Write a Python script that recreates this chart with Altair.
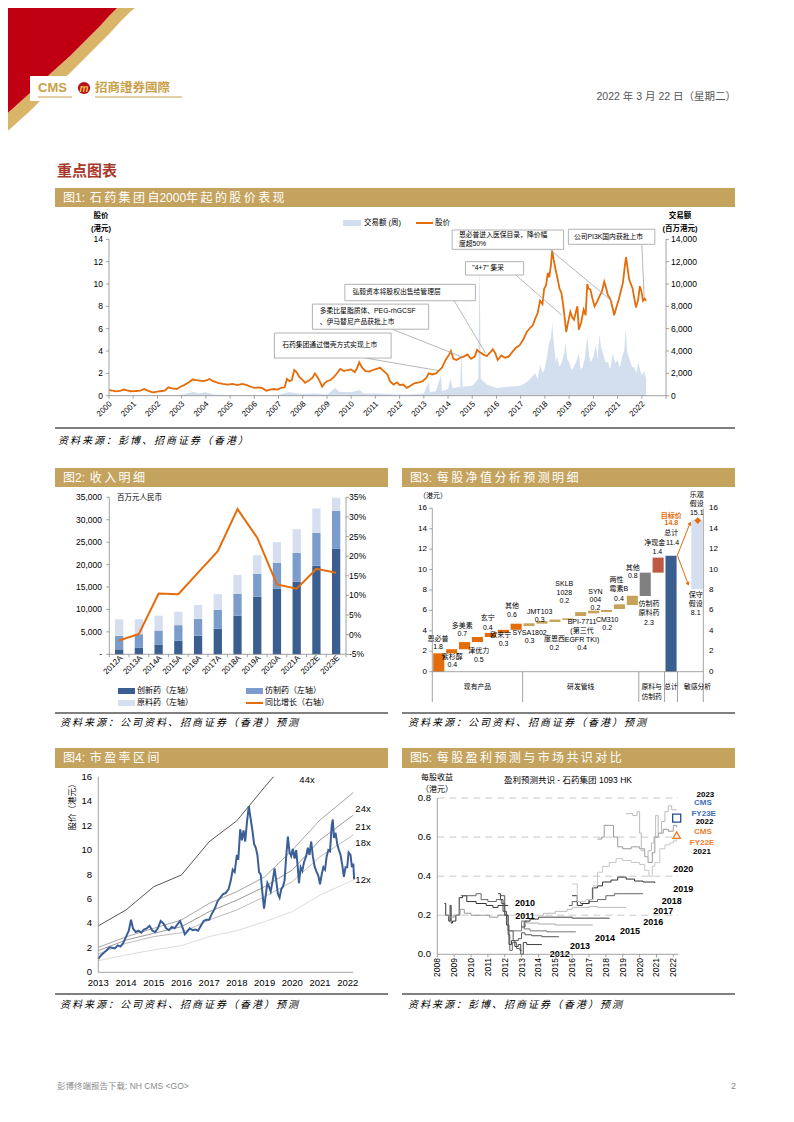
import altair as alt
import pandas as pd

O = 8
FONT = "Liberation Sans, Noto Sans CJK SC, sans-serif"
GOLD = "#C4A35E"
ORANGE = "#E46C0A"
AX = "#8C8C8C"
RED = "#C00012"
LOGO = "#C9A14A"
TS = "\u2009"

# ======================= DATA =======================
# Fig1: share price (HK$) and weekly turnover (HK$ m)
price1 = [(2000.0,0.5),(2000.15,0.45),(2000.3,0.38),(2000.5,0.45),(2000.6,0.55),(2000.75,0.48),(2000.9,0.4),
 (2001.1,0.42),(2001.3,0.45),(2001.45,0.6),(2001.6,0.45),(2001.8,0.3),(2001.95,0.35),(2002.1,0.4),(2002.3,0.45),
 (2002.45,0.75),(2002.6,0.65),(2002.8,0.6),(2002.95,0.8),(2003.1,0.95),(2003.3,1.2),(2003.45,1.45),(2003.6,1.4),
 (2003.75,1.35),(2003.9,1.3),(2004.05,1.4),(2004.15,1.5),(2004.3,1.3),(2004.5,1.15),(2004.7,1.05),(2004.9,1.0),
 (2005.1,1.05),(2005.3,0.95),(2005.5,1.05),(2005.7,0.95),(2005.85,0.8),(2006.0,0.7),(2006.2,0.75),(2006.35,0.65),
 (2006.5,0.45),(2006.65,0.55),(2006.8,0.6),(2006.95,0.55),(2007.1,0.7),(2007.25,0.75),(2007.35,1.5),(2007.45,1.3),
 (2007.55,1.4),(2007.65,2.3),(2007.75,2.1),(2007.85,1.7),(2008.0,1.4),(2008.1,1.15),(2008.25,1.35),(2008.4,1.6),
 (2008.5,2.0),(2008.6,1.7),(2008.7,1.3),(2008.8,0.8),(2008.9,1.1),(2009.0,1.3),(2009.15,1.4),(2009.3,1.7),
 (2009.45,2.1),(2009.55,2.4),(2009.7,2.2),(2009.85,2.3),(2010.0,2.35),(2010.15,2.1),(2010.25,2.5),(2010.33,3.0),
 (2010.45,2.5),(2010.6,2.2),(2010.75,2.15),(2010.9,2.3),(2011.05,2.4),(2011.2,2.5),(2011.35,2.2),(2011.5,1.9),
 (2011.6,1.3),(2011.75,1.0),(2011.9,1.2),(2012.0,0.95),(2012.15,1.0),(2012.3,0.7),(2012.45,0.9),(2012.6,1.1),
 (2012.8,1.2),(2012.95,1.3),(2013.1,1.6),(2013.2,2.0),(2013.35,1.9),(2013.5,2.0),(2013.6,2.2),(2013.75,2.5),
 (2013.9,3.2),(2014.05,3.7),(2014.12,4.0),(2014.22,3.3),(2014.35,3.2),(2014.5,3.4),(2014.65,3.5),(2014.8,3.7),
 (2014.95,3.3),(2015.1,3.5),(2015.2,4.1),(2015.3,3.9),(2015.45,3.7),(2015.6,3.55),(2015.75,3.9),(2015.85,4.15),
 (2015.95,3.8),(2016.05,3.2),(2016.2,3.6),(2016.35,3.4),(2016.5,3.5),(2016.65,3.9),(2016.8,4.3),(2016.95,4.5),
 (2017.1,5.0),(2017.25,5.7),(2017.4,6.1),(2017.5,6.3),(2017.6,6.9),(2017.7,7.4),(2017.8,8.5),(2017.9,8.2),
 (2017.97,9.6),(2018.05,9.9),(2018.12,11.0),(2018.18,10.6),(2018.25,11.7),(2018.3,13.0),(2018.36,12.2),
 (2018.44,11.3),(2018.52,10.5),(2018.6,9.6),(2018.68,9.2),(2018.75,8.2),(2018.82,6.9),(2018.88,5.7),(2018.95,6.5),
 (2019.05,7.5),(2019.13,7.0),(2019.2,6.8),(2019.28,7.5),(2019.34,8.0),(2019.4,5.9),(2019.5,6.6),(2019.6,7.7),
 (2019.68,7.2),(2019.75,10.0),(2019.8,9.6),(2019.88,9.5),(2019.95,8.8),(2020.05,8.0),(2020.15,8.4),(2020.25,8.9),
 (2020.35,9.3),(2020.45,10.2),(2020.52,9.7),(2020.6,9.0),(2020.71,8.6),(2020.8,7.8),(2020.86,7.2),(2020.95,7.9),
 (2021.05,8.6),(2021.15,9.5),(2021.22,10.1),(2021.3,11.6),(2021.35,12.4),(2021.42,11.3),(2021.48,10.4),
 (2021.55,10.0),(2021.62,9.6),(2021.7,8.6),(2021.76,7.9),(2021.85,8.6),(2021.92,9.8),(2021.98,9.4),(2022.05,8.5),
 (2022.12,8.7),(2022.18,8.5)]

vol1 = [(2000.0,30),(2001.0,40),(2002.0,40),(2003.0,80),(2003.5,350),(2003.7,200),(2004.0,300),(2004.3,100),
 (2005.0,60),(2006.0,50),(2007.0,80),(2007.4,300),(2007.7,250),(2008.0,150),(2008.5,200),(2009.0,100),
 (2009.35,700),(2009.5,350),(2010.0,300),(2010.35,500),(2010.5,200),(2011.0,200),(2011.5,150),(2012.0,100),
 (2012.5,100),(2013.0,200),(2013.2,1200),(2013.25,300),(2013.5,400),(2013.7,1800),(2013.75,400),(2014.0,600),
 (2014.1,1500),(2014.2,700),(2014.5,800),(2014.55,4200),(2014.6,800),(2015.0,900),(2015.25,1500),(2015.3,12400),
 (2015.35,1500),(2015.6,1000),(2016.0,700),(2016.5,800),(2017.0,900),(2017.3,1300),(2017.6,2000),(2017.7,1500),
 (2017.8,2800),(2017.9,2000),(2018.0,2500),(2018.1,3600),(2018.15,4500),(2018.25,5200),(2018.3,6500),
 (2018.35,5000),(2018.45,3000),(2018.5,3500),(2018.6,2600),(2018.7,3000),(2018.8,3900),(2018.85,4800),
 (2018.92,3300),(2019.0,3000),(2019.1,2300),(2019.2,2600),(2019.3,3100),(2019.4,3800),(2019.47,2400),
 (2019.55,2500),(2019.65,3400),(2019.75,5300),(2019.82,3600),(2019.9,3000),(2020.0,3500),(2020.1,4500),
 (2020.18,3300),(2020.25,5500),(2020.32,4300),(2020.4,3800),(2020.5,3000),(2020.6,3000),(2020.7,2400),
 (2020.8,3800),(2020.9,2900),(2021.0,3200),(2021.1,2500),(2021.2,3600),(2021.28,4100),(2021.33,6000),
 (2021.4,3900),(2021.5,3200),(2021.6,2600),(2021.7,2500),(2021.78,2000),(2021.85,3000),(2021.93,2300),
 (2022.0,1800),(2022.1,2200),(2022.18,1500)]

# Fig2: revenue (RMB m) by segment and yoy growth (%)
f2_cat = ["2012A","2013A","2014A","2015A","2016A","2017A","2018A","2019A","2020A","2021A","2022E","2023E"]
f2_innov = [1100,1500,2200,3050,4150,5700,8600,12850,14600,16200,19750,23600]
f2_generic = [3000,2950,3100,3450,3750,4200,4850,5050,5800,6450,7350,8350]
f2_api = [3700,3350,3300,3000,3100,3500,4250,4200,4600,5200,5400,2950]
f2_growth = [-1.5,0.2,10.5,10.3,15.8,21.3,32.0,24.7,12.8,11.7,16.8,15.8]

# Fig3: NAV waterfall (HK$/share): bar index, start, end, group
f3_idx = [0,1,2,3,4,5,6,7,8,9,10,11,12,13,14,15,16,17,18,20]
f3_start = [0,1.8,2.2,2.9,3.4,3.8,4.1,4.47,4.7,4.87,5.06,5.45,5.71,5.85,6.14,6.53,7.41,9.7,0,8.1]
f3_end = [1.8,2.2,2.9,3.4,3.8,4.1,4.7,4.74,4.96,5.1,5.22,5.84,5.98,6.04,6.6,7.44,9.7,11.17,11.36,14.9]
f3_group = ["现有"]*7 + ["研发"]*9 + ["仿制","现金","总计","敏感"]
f3_labels = [  # x(band units), y(HK$), text
 (0.45,3.2,"恩必普"),(0.45,2.45,"1.8"),(1.55,1.47,"紫杉醇"),(1.55,0.62,"0.4"),
 (2.33,4.5,"多美素"),(2.33,3.66,"0.7"),(3.6,2.06,"津优力"),(3.6,1.14,"0.5"),
 (4.3,5.29,"玄宁"),(4.3,4.31,"0.4"),(5.3,3.59,"欧来宁"),(5.52,2.71,"0.3"),
 (6.17,6.47,"其他"),(6.17,5.55,"0.6"),(7.54,3.82,"SYSA1802"),(7.54,3.0,"0.3"),
 (8.32,5.88,"JMT103"),(8.32,5.06,"0.3"),(9.46,3.2,"度恩西"),(9.46,2.35,"0.2"),
 (11.6,4.85,"BPI-7711"),(11.6,3.98,"(第三代"),(11.6,3.12,"EGFR TKI)"),(11.6,2.3,"0.4"),
 (10.23,8.56,"SKLB"),(10.23,7.72,"1028"),(10.23,6.9,"0.2"),
 (12.64,7.84,"SYN"),(12.64,7.03,"004"),(12.64,6.22,"0.2"),
 (13.55,5.06,"CM310"),(13.55,4.25,"0.2"),
 (14.27,8.98,"两性"),(14.46,8.05,"霉素B"),(14.46,7.12,"0.4"),
 (15.54,10.19,"其他"),(15.54,9.37,"0.8"),
 (16.79,6.6,"仿制药"),(16.79,5.71,"原料药"),(16.79,4.8,"2.3"),
 (17.23,12.57,"净现金"),(17.44,11.69,"1.4"),(18.52,13.55,"总计"),(18.62,12.64,"11.4"),
 (20.49,17.3,"乐观"),(20.49,16.42,"假设"),(20.49,15.51,"15.1"),
 (20.41,7.51,"保守"),(20.41,6.63,"假设"),(20.41,5.71,"8.1")]
f3_target = 14.8

# Fig4: share price since 2013 and PE bands
price4 = [(2013.0,1.1),(2013.1,1.4),(2013.2,1.6),(2013.3,1.8),(2013.4,2.05),(2013.5,2.0),(2013.6,1.95),(2013.7,2.2),
 (2013.8,2.1),(2013.9,2.4),(2014.0,2.9),(2014.1,3.4),(2014.18,4.3),(2014.25,3.6),(2014.35,3.3),(2014.45,3.4),
 (2014.55,3.25),(2014.65,3.5),(2014.75,3.6),(2014.85,3.8),(2014.95,3.4),(2015.05,3.3),(2015.15,3.6),(2015.25,4.2),
 (2015.35,4.0),(2015.45,3.6),(2015.55,3.45),(2015.65,3.7),(2015.75,3.6),(2015.85,3.9),(2015.95,4.2),(2016.05,3.6),
 (2016.12,3.1),(2016.2,3.3),(2016.3,3.6),(2016.4,3.45),(2016.5,3.5),(2016.6,3.4),(2016.7,3.8),(2016.8,4.2),
 (2016.9,4.3),(2017.0,4.3),(2017.1,4.8),(2017.2,5.2),(2017.3,5.8),(2017.4,6.1),(2017.5,6.4),(2017.6,6.5),
 (2017.7,6.8),(2017.78,7.5),(2017.85,8.4),(2017.92,8.2),(2018.0,9.6),(2018.05,9.2),(2018.12,11.7),(2018.18,10.8),
 (2018.24,11.6),(2018.3,10.7),(2018.36,12.2),(2018.43,13.6),(2018.5,12.5),(2018.56,11.6),(2018.62,10.5),
 (2018.68,10.2),(2018.74,9.6),(2018.8,8.2),(2018.86,8.0),(2018.92,6.5),(2018.98,5.2),(2019.04,6.3),(2019.1,7.3),
 (2019.16,7.0),(2019.22,6.6),(2019.3,7.6),(2019.36,8.5),(2019.42,7.5),(2019.48,6.4),(2019.54,6.1),(2019.6,6.8),
 (2019.66,7.0),(2019.72,7.5),(2019.78,9.5),(2019.84,11.1),(2019.9,9.8),(2019.96,9.5),(2020.02,10.1),(2020.08,9.3),
 (2020.14,10.0),(2020.2,8.5),(2020.24,7.3),(2020.3,8.6),(2020.36,8.3),(2020.42,9.0),(2020.5,9.5),(2020.56,10.2),
 (2020.62,9.6),(2020.68,10.7),(2020.74,9.5),(2020.8,8.7),(2020.86,8.3),(2020.94,7.9),(2021.0,7.2),(2021.06,8.0),
 (2021.12,8.6),(2021.18,8.4),(2021.24,9.5),(2021.3,10.0),(2021.36,9.9),(2021.42,12.0),(2021.46,12.5),(2021.5,11.0),
 (2021.56,11.4),(2021.62,10.5),(2021.68,10.0),(2021.74,9.6),(2021.8,8.8),(2021.86,7.8),(2021.92,8.6),(2021.98,8.6),
 (2022.03,9.8),(2022.1,9.6),(2022.15,8.6),(2022.2,8.9),(2022.23,7.6)]
pe_t = [2013,2014,2015,2016,2017,2018,2019,2020,2021,2022.2]
pe_bands = {
 "44x": ([2013,2014,2015,2016,2017,2018,2019,2019.32], [3.8,5.1,7.0,7.96,10.68,12.4,15.15,16.0]),
 "24x": (pe_t, [2.04,2.9,3.6,4.28,5.64,6.6,7.8,10.0,12.46,14.7]),
 "21x": (pe_t, [1.77,2.64,3.19,3.73,4.96,5.9,7.0,8.37,10.82,12.86]),
 "18x": (pe_t, [1.5,2.37,2.92,3.24,4.28,5.1,6.19,7.41,9.46,11.23]),
 "12x": (pe_t, [0.95,1.42,1.83,2.18,2.92,3.41,4.14,4.96,6.32,7.55]),
}

# Fig5: consensus EPS (HK$) by fiscal year
eps_lines = {
 "FY2010": ([2008.42,2008.5,2008.68,2008.76,2008.82,2008.9,2009.1,2009.3,2009.5,2009.75,2010.3,2010.9,2011.3,2011.6,2012.2],
            [0.26,0.2,0.17,0.25,0.16,0.17,0.2,0.29,0.3,0.27,0.26,0.25,0.24,0.25,0.25]),
 "FY2011": ([2008.42,2008.7,2009.0,2009.35,2009.6,2010.0,2010.6,2011.1,2011.6,2012.2],
            [0.2,0.19,0.2,0.23,0.21,0.2,0.2,0.19,0.2,0.19]),
 "FY2012": ([2009.4,2009.8,2010.3,2010.6,2011.0,2011.5,2011.8,2012.0,2012.2,2012.3,2012.45,2012.7,2012.9,2013.0],
            [0.3,0.3,0.31,0.28,0.27,0.28,0.26,0.2,0.1,0.02,0.06,0.03,0.02,0.02]),
 "FY2013": ([2011.6,2011.75,2011.9,2012.1,2012.25,2012.4,2012.6,2012.8,2012.95,2013.1,2013.3,2014.2],
            [0.31,0.28,0.22,0.15,0.05,0.07,0.04,0.05,0.0,0.06,0.05,0.05]),
 "FY2014": ([2011.7,2012.0,2012.2,2012.5,2012.8,2013.0,2013.2,2013.6,2014.2,2015.2],
            [0.3,0.2,0.12,0.07,0.08,0.11,0.1,0.095,0.09,0.088]),
 "FY2015": ([2012.3,2012.8,2013.0,2013.15,2013.5,2014.5,2016.2],[0.12,0.12,0.17,0.13,0.12,0.115,0.113]),
 "FY2016": ([2013.0,2013.3,2014.0,2015.0,2017.2],[0.17,0.16,0.155,0.15,0.149]),
 "FY2017": ([2013.0,2013.2,2013.5,2014.0,2015.0,2016.0,2018.2],[0.14,0.17,0.18,0.19,0.19,0.185,0.183]),
 "FY2018": ([2014.1,2014.3,2015.0,2015.7,2016.0,2016.5,2017.0,2017.5,2019.2],[0.2,0.21,0.22,0.23,0.24,0.24,0.245,0.24,0.24]),
 "FY2019": ([2015.8,2016.0,2016.5,2017.0,2017.5,2018.0,2018.5,2019.0,2020.2],[0.25,0.27,0.26,0.27,0.28,0.3,0.31,0.31,0.31]),
 "FY2020": ([2016.0,2016.3,2016.6,2017.0,2017.2,2017.5,2017.8,2018.3,2018.7,2019.2,2019.7,2020.2,2020.9],
            [0.3,0.25,0.26,0.28,0.34,0.35,0.37,0.38,0.395,0.385,0.375,0.37,0.365]),
 "FY2021": ([2016.0,2016.3,2016.8,2017.25,2017.5,2017.8,2018.2,2018.6,2019.0,2019.5,2020.0,2020.3,2020.55,2020.75,2020.9,2021.2,2021.5,2021.8,2022.0,2022.2],
            [0.36,0.27,0.28,0.35,0.42,0.45,0.47,0.49,0.48,0.47,0.46,0.43,0.4,0.45,0.47,0.54,0.56,0.57,0.58,0.59]),
 "FY2022": ([2017.5,2017.75,2017.9,2018.2,2018.45,2018.7,2019.0,2019.5,2020.0,2020.3,2020.5,2020.75,2020.9,2021.1,2021.4,2021.7,2022.0,2022.2],
            [0.59,0.6,0.66,0.66,0.6,0.55,0.54,0.55,0.54,0.5,0.47,0.52,0.6,0.62,0.64,0.63,0.66,0.65]),
 "FY2023": ([2019.2,2019.6,2019.85,2020.0,2020.1,2020.3,2020.5,2020.7,2020.85,2020.95,2021.1,2021.3,2021.5,2021.7,2021.9,2022.2],
            [0.72,0.71,0.73,0.62,0.53,0.5,0.53,0.57,0.6,0.71,0.62,0.68,0.73,0.76,0.74,0.74]),
}
eps_colors = ["#333333","#9a9a9a","#666666","#444444","#555555","#777777","#aaaaaa","#444444","#bbbbbb",
              "#666666","#333333","#c8c8c8","#999999","#bbbbbb"]
cms_fy23 = (2022.2, 0.697)
cms_fy22 = (2022.2, 0.61)
eps_labels_right = [(2023.9,0.815,"2023","#000"),(2023.75,0.772,"CMS","#3F6FB5"),(2023.8,0.72,"FY23E","#3F6FB5"),
 (2023.85,0.676,"2022","#000"),(2023.75,0.626,"CMS","#F07C28"),(2023.7,0.572,"FY22E","#F07C28"),
 (2023.7,0.524,"2021","#000")]
eps_labels = [(2022.59,0.437,"2020"),(2022.59,0.336,"2019"),
 (2021.9,0.274,"2018"),(2021.4,0.223,"2017"),(2020.81,0.167,"2016"),
 (2019.43,0.121,"2015"),(2017.95,0.085,"2014"),(2016.46,0.044,"2013"),
 (2015.27,0.0,"2012"),(2013.2,0.261,"2010"),(2013.2,0.196,"2011")]

# ======================= HELPERS =======================
L = []
one = pd.DataFrame({"k": [0]})


def P(v):
    return v - O


def S(dom, a, b):
    return alt.Scale(domain=list(dom), range=[P(a), P(b)], nice=False, zero=False)


def sp(s):
    """widen CJK text a little (thin spaces between characters)"""
    return TS.join(list(s))


def T(x, y, s, size=8, color="#000", weight="normal", align="left", baseline="middle", angle=0, style="normal"):
    L.append(alt.Chart(one).mark_text(text=s, fontSize=size, color=color, fontWeight=weight, align=align,
                                      baseline=baseline, angle=angle, fontStyle=style, font=FONT)
             .encode(x=alt.value(P(x)), y=alt.value(P(y))))


def R(x0, y0, x1, y1, color):
    L.append(alt.Chart(one).mark_rect(color=color)
             .encode(x=alt.value(P(x0)), x2=alt.value(P(x1)), y=alt.value(P(y0)), y2=alt.value(P(y1))))


def H(x0, x1, y, color="#000", w=1.0):
    L.append(alt.Chart(one).mark_rule(color=color, strokeWidth=w)
             .encode(x=alt.value(P(x0)), x2=alt.value(P(x1)), y=alt.value(P(y))))


def vaxis(ys, lo, hi, xpix, ticks, labels, side, lab_x, size=8, tick=3, weight="normal"):
    L.append(alt.Chart(pd.DataFrame({"a": [lo], "b": [hi]})).mark_rule(color=AX, strokeWidth=0.8)
             .encode(x=alt.value(P(xpix)), y=alt.Y("a:Q", scale=ys, axis=None), y2="b:Q"))
    df = pd.DataFrame({"v": ticks, "l": labels})
    if tick:
        x2 = xpix - tick if side == "left" else xpix + tick
        L.append(alt.Chart(df).mark_rule(color=AX, strokeWidth=0.8)
                 .encode(y=alt.Y("v:Q", scale=ys, axis=None), x=alt.value(P(xpix)), x2=alt.value(P(x2))))
    L.append(alt.Chart(df).mark_text(align="right" if side == "left" else "left", baseline="middle",
                                     fontSize=size, font=FONT, fontWeight=weight)
             .encode(y=alt.Y("v:Q", scale=ys, axis=None), x=alt.value(P(lab_x)), text="l:N"))


def haxis(xs, lo, hi, ypix, ticks, tick=3):
    L.append(alt.Chart(pd.DataFrame({"a": [lo], "b": [hi]})).mark_rule(color=AX, strokeWidth=0.8)
             .encode(y=alt.value(P(ypix)), x=alt.X("a:Q", scale=xs, axis=None), x2="b:Q"))
    if tick:
        L.append(alt.Chart(pd.DataFrame({"v": ticks})).mark_rule(color=AX, strokeWidth=0.8)
                 .encode(x=alt.X("v:Q", scale=xs, axis=None), y=alt.value(P(ypix)), y2=alt.value(P(ypix + tick))))


def xlabels(xs, vals, labels, ypix, size=8, angle=0, align="center", baseline="top", weight="normal"):
    df = pd.DataFrame({"v": vals, "l": labels})
    L.append(alt.Chart(df).mark_text(angle=angle, align=align, baseline=baseline, fontSize=size, font=FONT,
                                     fontWeight=weight)
             .encode(x=alt.X("v:Q", scale=xs, axis=None), y=alt.value(P(ypix)), text="l:N"))


# ======================= PAGE HEADER =======================
PX = S([0, 794], 0, 794)
PY = S([0, 1122], 0, 1122)
sw_x = [0, 10, 20, 30, 40, 50, 60, 70, 80, 90, 100, 110, 120, 125, 130, 140, 148]
sw_red = [120, 111, 102, 93, 84, 74, 65, 56, 46, 36, 26, 15, 5, 0, 0, 0, 0]
sw_gold = [138, 129, 120, 111, 101, 92, 82, 73, 63, 53, 43, 33, 22, 17, 12, 4, 0]
swdf = pd.DataFrame({"x": sw_x, "top": [0] * len(sw_x), "red": sw_red, "gold": sw_gold})
L.append(alt.Chart(swdf).mark_area(color="#D9B56A", orient="vertical").encode(
    x=alt.X("x:Q", scale=PX, axis=None), y=alt.Y("red:Q", scale=PY, axis=None), y2="gold:Q"))
L.append(alt.Chart(swdf).mark_area(color=RED, orient="vertical").encode(
    x=alt.X("x:Q", scale=PX, axis=None), y=alt.Y("top:Q", scale=PY, axis=None), y2="red:Q"))

R(30, 76, 212, 101, "#FFFFFF")
T(38, 88, "CMS", size=13, color=LOGO, weight="bold")
L.append(alt.Chart(one).mark_point(shape="circle", filled=True, color="#B5121B", size=150, opacity=1)
         .encode(x=alt.value(P(84)), y=alt.value(P(88))))
T(84, 88.5, "m", size=10, color="#F2C14E", weight="bold", align="center", style="italic")
T(95, 88, "招商證券國際", size=12.5, color=LOGO, weight="bold")
H(38, 72, 97, LOGO, 1)
H(95, 182, 97, LOGO, 1)
T(736, 97, "2022 年 3 月 22 日（星期二）", size=10.5, color="#555555", align="right")

T(57, 171, "重点图表", size=15, color="#A8382B", weight="bold")

# title bars
R(55, 188, 735, 207, GOLD)
T(63, 197.5, "图1:" + TS * 2 + sp("石药集团自") + "2000" + sp("年起的股价表现"), size=12, color="#FFFFFF")
R(55, 468, 388, 487, GOLD)
T(63, 477.5, "图2:" + TS * 2 + sp("收入明细"), size=12, color="#FFFFFF")
R(402, 468, 735, 487, GOLD)
T(410, 477.5, "图3:" + TS * 2 + sp("每股净值分析预测明细"), size=12, color="#FFFFFF")
R(55, 748, 388, 768, GOLD)
T(63, 758, "图4:" + TS * 2 + sp("市盈率区间"), size=12, color="#FFFFFF")
R(402, 748, 735, 768, GOLD)
T(410, 758, "图5:" + TS * 2 + sp("每股盈利预测与市场共识对比"), size=12, color="#FFFFFF")

# sources
H(55, 735, 428, "#000", 1)
T(58, 441, sp("资料来源：彭博、招商证券（香港）"), size=10, style="italic")
H(55, 388, 713, "#000", 1)
T(60, 723, sp("资料来源：公司资料、招商证券（香港）预测"), size=10, style="italic")
H(402, 735, 713, "#000", 1)
T(408, 723, sp("资料来源：公司资料、招商证券（香港）预测"), size=10, style="italic")
H(55, 388, 994, "#000", 1)
T(60, 1005, sp("资料来源：公司资料、招商证券（香港）预测"), size=10, style="italic")
H(402, 735, 994, "#000", 1)
T(408, 1005, sp("资料来源：彭博、招商证券（香港）预测"), size=10, style="italic")

T(57, 1086, "彭博终端报告下载: NH CMS <GO>", size=8.5, color="#8A8A8A")
T(736, 1086, "2", size=9, color="#8A8A8A", align="right")

# ======================= FIGURE 1 =======================
x1s = S([2000, 2023], 109, 666)
y1s = S([0, 14], 395.7, 239.3)
y1r = S([0, 14000], 395.7, 239.3)
vdf = pd.DataFrame(vol1, columns=["t", "v"])
vdf["z"] = 0
L.append(alt.Chart(vdf).mark_area(color="#D3DEEE", orient="vertical").encode(
    x=alt.X("t:Q", scale=x1s, axis=None), y=alt.Y("v:Q", scale=y1r, axis=None), y2="z:Q"))
p1 = pd.DataFrame(price1, columns=["t", "v"])
L.append(alt.Chart(p1).mark_line(color=ORANGE, strokeWidth=1.8).encode(
    x=alt.X("t:Q", scale=x1s, axis=None), y=alt.Y("v:Q", scale=y1s, axis=None)))

# annotations (data coordinates)
ann_lines = pd.DataFrame({"t1": [2010.6, 2011.7, 2014.25, 2016.8, 2018.2, 2022.0],
                          "v1": [3.37, 5.95, 8.5, 10.8, 13.1, 13.55],
                          "t2": [2013.6, 2014.6, 2015.55, 2018.7, 2020.8, 2022.1],
                          "v2": [2.25, 3.45, 3.8, 7.2, 8.4, 8.8]})
L.append(alt.Chart(ann_lines).mark_rule(color="#A6A6A6", strokeWidth=0.8).encode(
    x=alt.X("t1:Q", scale=x1s, axis=None), y=alt.Y("v1:Q", scale=y1s, axis=None), x2="t2:Q", y2="v2:Q"))
ann_box = pd.DataFrame({"x0": [2006.83, 2008.4, 2009.74, 2014.72, 2014.17, 2018.97],
                        "x1": [2011.65, 2013.2, 2015.13, 2017.12, 2018.77, 2022.54],
                        "y0": [3.37, 5.95, 8.5, 10.8, 13.1, 13.55],
                        "y1": [5.61, 8.2, 9.97, 12.0, 14.83, 14.9]})
L.append(alt.Chart(ann_box).mark_rect(fill="#FFFFFF", stroke="#A0A0A0", strokeWidth=0.8).encode(
    x=alt.X("x0:Q", scale=x1s, axis=None), x2="x1:Q", y=alt.Y("y0:Q", scale=y1s, axis=None), y2="y1:Q"))
ann_txt = pd.DataFrame({"t": [2007.15, 2008.7, 2008.7, 2010.05, 2015.0, 2014.45, 2014.45, 2019.2],
                        "v": [4.5, 7.6, 6.6, 9.25, 11.4, 14.35, 13.6, 14.22],
                        "s": ["石药集团通过借壳方式实现上市", "多柔比星脂质体、PEG-rhGCSF", "、伊马替尼产品获批上市",
                              "弘毅资本将股权出售给管理层", "\"4+7\" 集采", "恩必普进入医保目录，降价幅",
                              "度超50%", "公司PI3K国内获批上市"]})
L.append(alt.Chart(ann_txt).mark_text(align="left", baseline="middle", fontSize=6.8, font=FONT).encode(
    x=alt.X("t:Q", scale=x1s, axis=None), y=alt.Y("v:Q", scale=y1s, axis=None), text="s:N"))

vaxis(y1s, 0, 14, 109, list(range(0, 15, 2)), [str(v) for v in range(0, 15, 2)], "left", 103, size=8.5)
vaxis(y1r, 0, 14000, 666, list(range(0, 14001, 2000)), [f"{v:,}" for v in range(0, 14001, 2000)], "right", 671, size=8.5)
haxis(x1s, 2000, 2023, 395.7, list(range(2000, 2024)))
xlabels(x1s, [y + 0.08 for y in range(2000, 2023)], [str(y) for y in range(2000, 2023)], 403,
        size=8, angle=315, align="right", baseline="middle")
T(101, 216, "股价", size=7.5, weight="bold", align="center")
T(101, 229, "(港元)", size=7.5, weight="bold", align="center")
T(680, 216, "交易额", size=7.5, weight="bold", align="center")
T(680, 229, "(百万港元)", size=7.5, weight="bold", align="center")
R(343, 220, 361, 226, "#D3DEEE")
T(364, 223, "交易额 (周)", size=7.5)
H(416, 433, 223, ORANGE, 2)
T(435, 223, "股价", size=7.5)

# ======================= FIGURE 2 =======================
x2s = S([0, 12], 109.3, 346)
y2s = S([0, 35000], 654.3, 497.3)
y2r = S([-5, 35], 654.3, 497.3)
rows = []
for i, c in enumerate(f2_cat):
    b = 0
    for seg, val in (("创新药", f2_innov[i]), ("仿制药", f2_generic[i]), ("原料药", f2_api[i])):
        rows.append({"x0": i + 0.29, "x1": i + 0.71, "y0": b, "y1": b + val, "seg": seg})
        b += val
bdf = pd.DataFrame(rows)
L.append(alt.Chart(bdf).mark_rect().encode(
    x=alt.X("x0:Q", scale=x2s, axis=None), x2="x1:Q", y=alt.Y("y0:Q", scale=y2s, axis=None), y2="y1:Q",
    color=alt.Color("seg:N", scale=alt.Scale(domain=["创新药", "仿制药", "原料药"],
                                             range=["#3B5E91", "#7C9DCC", "#D5DFEF"]), legend=None)))
gdf = pd.DataFrame({"x": [i + 0.5 for i in range(12)], "g": f2_growth})
L.append(alt.Chart(gdf).mark_line(color=ORANGE, strokeWidth=2).encode(
    x=alt.X("x:Q", scale=x2s, axis=None), y=alt.Y("g:Q", scale=y2r, axis=None)))
vaxis(y2s, 0, 35000, 109.3, list(range(0, 35001, 5000)),
      ["-"] + [f"{v:,}" for v in range(5000, 35001, 5000)], "left", 102, size=8.5)
vaxis(y2r, -5, 35, 346, list(range(-5, 36, 5)), [f"{v}%" for v in range(-5, 36, 5)], "right", 349, size=8.5)
haxis(x2s, 0, 12, 654.3, list(range(0, 13)))
xlabels(x2s, [i + 0.62 for i in range(12)], f2_cat, 657, size=8, angle=315, align="right", baseline="middle")
T(117, 497.5, "百万元人民币", size=7.5)
R(118, 688, 135, 694, "#3B5E91")
T(137, 691, "创新药（左轴）", size=8)
R(246, 688, 263, 694, "#7C9DCC")
T(265, 691, "仿制药（左轴）", size=8)
R(118, 700, 135, 706, "#D5DFEF")
T(137, 703, "原料药（左轴）", size=8)
H(246, 263, 703, ORANGE, 2)
T(265, 703, "同比增长（右轴）", size=8)

# ======================= FIGURE 3 =======================
x3s = S([0, 21], 432.3, 703.3)
y3s = S([0, 16], 671.7, 508.3)
wdf = pd.DataFrame({"x0": [i + 0.07 for i in f3_idx], "x1": [i + 0.93 for i in f3_idx],
                    "y0": f3_start, "y1": f3_end, "g": f3_group})
L.append(alt.Chart(wdf).mark_rect().encode(
    x=alt.X("x0:Q", scale=x3s, axis=None), x2="x1:Q", y=alt.Y("y0:Q", scale=y3s, axis=None), y2="y1:Q",
    color=alt.Color("g:N", scale=alt.Scale(domain=["现有", "研发", "仿制", "现金", "总计", "敏感"],
                                           range=[ORANGE, "#C6A25A", "#808080", "#BE5A44", "#3B5E91", "#D5DFEF"]),
                    legend=None)))
arr = pd.DataFrame({"x1": [18.99, 18.99], "y1": [11.4, 11.4], "x2": [19.97, 19.82], "y2": [14.53, 8.59]})
L.append(alt.Chart(arr).mark_rule(color=ORANGE, strokeWidth=1).encode(
    x=alt.X("x1:Q", scale=x3s, axis=None), y=alt.Y("y1:Q", scale=y3s, axis=None), x2="x2:Q", y2="y2:Q"))
L.append(alt.Chart(pd.DataFrame({"x": [19.97], "y": [14.53]})).mark_point(
    shape="triangle-up", filled=True, color=ORANGE, size=18, angle=22, opacity=1).encode(
    x=alt.X("x:Q", scale=x3s, axis=None), y=alt.Y("y:Q", scale=y3s, axis=None)))
L.append(alt.Chart(pd.DataFrame({"x": [19.82], "y": [8.59]})).mark_point(
    shape="triangle-up", filled=True, color=ORANGE, size=18, angle=160, opacity=1).encode(
    x=alt.X("x:Q", scale=x3s, axis=None), y=alt.Y("y:Q", scale=y3s, axis=None)))
L.append(alt.Chart(pd.DataFrame({"x": [20.57], "y": [f3_target]})).mark_point(
    shape="diamond", filled=True, color=ORANGE, size=45, opacity=1).encode(
    x=alt.X("x:Q", scale=x3s, axis=None), y=alt.Y("y:Q", scale=y3s, axis=None)))
ldf = pd.DataFrame(f3_labels, columns=["x", "y", "s"])
L.append(alt.Chart(ldf).mark_text(align="center", baseline="middle", fontSize=7, font=FONT).encode(
    x=alt.X("x:Q", scale=x3s, axis=None), y=alt.Y("y:Q", scale=y3s, axis=None), text="s:N"))
tdf = pd.DataFrame({"x": [18.52, 18.52], "y": [15.25, 14.53], "s": ["目标价", f"{f3_target}"]})
L.append(alt.Chart(tdf).mark_text(align="center", baseline="middle", fontSize=7, font=FONT,
                                  color=ORANGE, fontWeight="bold").encode(
    x=alt.X("x:Q", scale=x3s, axis=None), y=alt.Y("y:Q", scale=y3s, axis=None), text="s:N"))
vaxis(y3s, 0, 16, 432.3, list(range(0, 17, 2)), [str(v) for v in range(0, 17, 2)], "left", 427, size=8)
vaxis(y3s, 0, 16, 703.3, list(range(0, 17, 2)), [str(v) for v in range(0, 17, 2)], "right", 709, size=8, tick=0)
haxis(x3s, 0, 21, 671.7, [], tick=0)
L.append(alt.Chart(pd.DataFrame({"x": [0, 7, 16, 18, 19, 21]})).mark_rule(color=AX, strokeWidth=0.8).encode(
    x=alt.X("x:Q", scale=x3s, axis=None), y=alt.value(P(671.7)), y2=alt.value(P(702))))
gl = pd.DataFrame({"x": [3.5, 11.5, 17.0, 17.0, 18.5, 20.55], "y": [687, 687, 687, 697, 687, 687],
                   "s": ["现有产品", "研发管线", "原料与", "仿制药", "总计", "敏感分析"]})
L.append(alt.Chart(gl).mark_text(align="center", baseline="middle", fontSize=6.8, font=FONT).encode(
    x=alt.X("x:Q", scale=x3s, axis=None), y=alt.Y("y:Q", scale=PY, axis=None), text="s:N"))
T(433, 496, "（港元）", size=7, align="center")

# ======================= FIGURE 4 =======================
x4s = S([2013, 2022.2], 98.3, 353.3)
y4s = S([0, 16], 972.3, 776.7)
pe_rows = []
for k, (ts, vs) in pe_bands.items():
    for t, v in zip(ts, vs):
        pe_rows.append({"t": t, "v": v, "b": k})
pedf = pd.DataFrame(pe_rows)
L.append(alt.Chart(pedf).mark_line(strokeWidth=1).encode(
    x=alt.X("t:Q", scale=x4s, axis=None), y=alt.Y("v:Q", scale=y4s, axis=None),
    color=alt.Color("b:N", scale=alt.Scale(domain=["44x", "24x", "21x", "18x", "12x"],
                                           range=["#555555", "#A6A6A6", "#9A9A9A", "#BDBDBD", "#DDDDDD"]),
                    legend=None)))
p4 = pd.DataFrame(price4, columns=["t", "v"])
L.append(alt.Chart(p4).mark_line(color="#3A5F96", strokeWidth=2).encode(
    x=alt.X("t:Q", scale=x4s, axis=None), y=alt.Y("v:Q", scale=y4s, axis=None)))
vaxis(y4s, 0, 16, 98.3, list(range(0, 17, 2)), [str(v) for v in range(0, 17, 2)], "left", 92, size=9.5, tick=0)
haxis(x4s, 2013, 2022.2, 972.3, list(range(2013, 2023)), tick=0)
xlabels(x4s, list(range(2013, 2023)), [str(y) for y in range(2013, 2023)], 978, size=9.5)
T(307, 780, "44x", size=9.5, align="center")
T(363, 809, "24x", size=9.5, align="center")
T(363, 827, "21x", size=9.5, align="center")
T(363, 843, "18x", size=9.5, align="center")
T(363, 880, "12x", size=9.5, align="center")
T(72, 805, "股价（港元）", size=8.5, align="center", angle=270)

# ======================= FIGURE 5 =======================
x5s = S([2008, 2022.3], 437.3, 678.4)
y5s = S([0, 0.8], 954.3, 798)
L.append(alt.Chart(pd.DataFrame({"v": [0.2, 0.4, 0.6, 0.8]})).mark_rule(
    color="#C8C8C8", strokeWidth=1, strokeDash=[7, 5]).encode(
    y=alt.Y("v:Q", scale=y5s, axis=None), x=alt.value(P(437.3)), x2=alt.value(P(678))))
e_rows = []
for k, (ts, vs) in eps_lines.items():
    for t, v in zip(ts, vs):
        e_rows.append({"t": t, "v": v, "fy": k})
edf = pd.DataFrame(e_rows)
L.append(alt.Chart(edf).mark_line(strokeWidth=1, interpolate="step-after").encode(
    x=alt.X("t:Q", scale=x5s, axis=None), y=alt.Y("v:Q", scale=y5s, axis=None),
    color=alt.Color("fy:N", scale=alt.Scale(domain=list(eps_lines.keys()), range=eps_colors), legend=None)))
L.append(alt.Chart(pd.DataFrame({"t": [cms_fy23[0]], "v": [cms_fy23[1]]})).mark_point(
    shape="square", filled=False, color="#1F4E8C", size=65, strokeWidth=1.3, opacity=1).encode(
    x=alt.X("t:Q", scale=x5s, axis=None), y=alt.Y("v:Q", scale=y5s, axis=None)))
L.append(alt.Chart(pd.DataFrame({"t": [cms_fy22[0]], "v": [cms_fy22[1]]})).mark_point(
    shape="triangle-up", filled=False, color="#F07C28", size=55, strokeWidth=1.3, opacity=1).encode(
    x=alt.X("t:Q", scale=x5s, axis=None), y=alt.Y("v:Q", scale=y5s, axis=None)))
elr = pd.DataFrame(eps_labels_right, columns=["t", "v", "s", "c"])
L.append(alt.Chart(elr).mark_text(align="center", baseline="middle", fontSize=8, font=FONT,
                                  fontWeight="bold").encode(
    x=alt.X("t:Q", scale=x5s, axis=None), y=alt.Y("v:Q", scale=y5s, axis=None), text="s:N",
    color=alt.Color("c:N", scale=None)))
eld = pd.DataFrame(eps_labels, columns=["t", "v", "s"])
L.append(alt.Chart(eld).mark_text(align="center", baseline="middle", fontSize=9, font=FONT,
                                  fontWeight="bold").encode(
    x=alt.X("t:Q", scale=x5s, axis=None), y=alt.Y("v:Q", scale=y5s, axis=None), text="s:N"))
vaxis(y5s, 0, 0.8, 437.3, [0, 0.2, 0.4, 0.6, 0.8], ["0.0", "0.2", "0.4", "0.6", "0.8"], "left", 431, size=9.5, tick=0)
haxis(x5s, 2008, 2022.3, 954.3, list(range(2008, 2023)))
xlabels(x5s, list(range(2008, 2023)), [str(y) for y in range(2008, 2023)], 958, size=8.5, angle=270,
        align="right", baseline="middle")
T(437, 778, "每股收益", size=8, align="center")
T(437, 790, "（港元）", size=8, align="center")
T(568, 780, "盈利预测共识 - 石药集团 1093 HK", size=8.5, align="center")

# ======================= ASSEMBLE =======================
chart = alt.layer(*L).resolve_scale(x="independent", y="independent", color="independent").properties(
    width=778, height=1106, padding=0, autosize=alt.AutoSizeParams(type="none")
).configure_view(stroke=None)

chart.save("out.html", embed_options={"renderer": "svg", "actions": False})
